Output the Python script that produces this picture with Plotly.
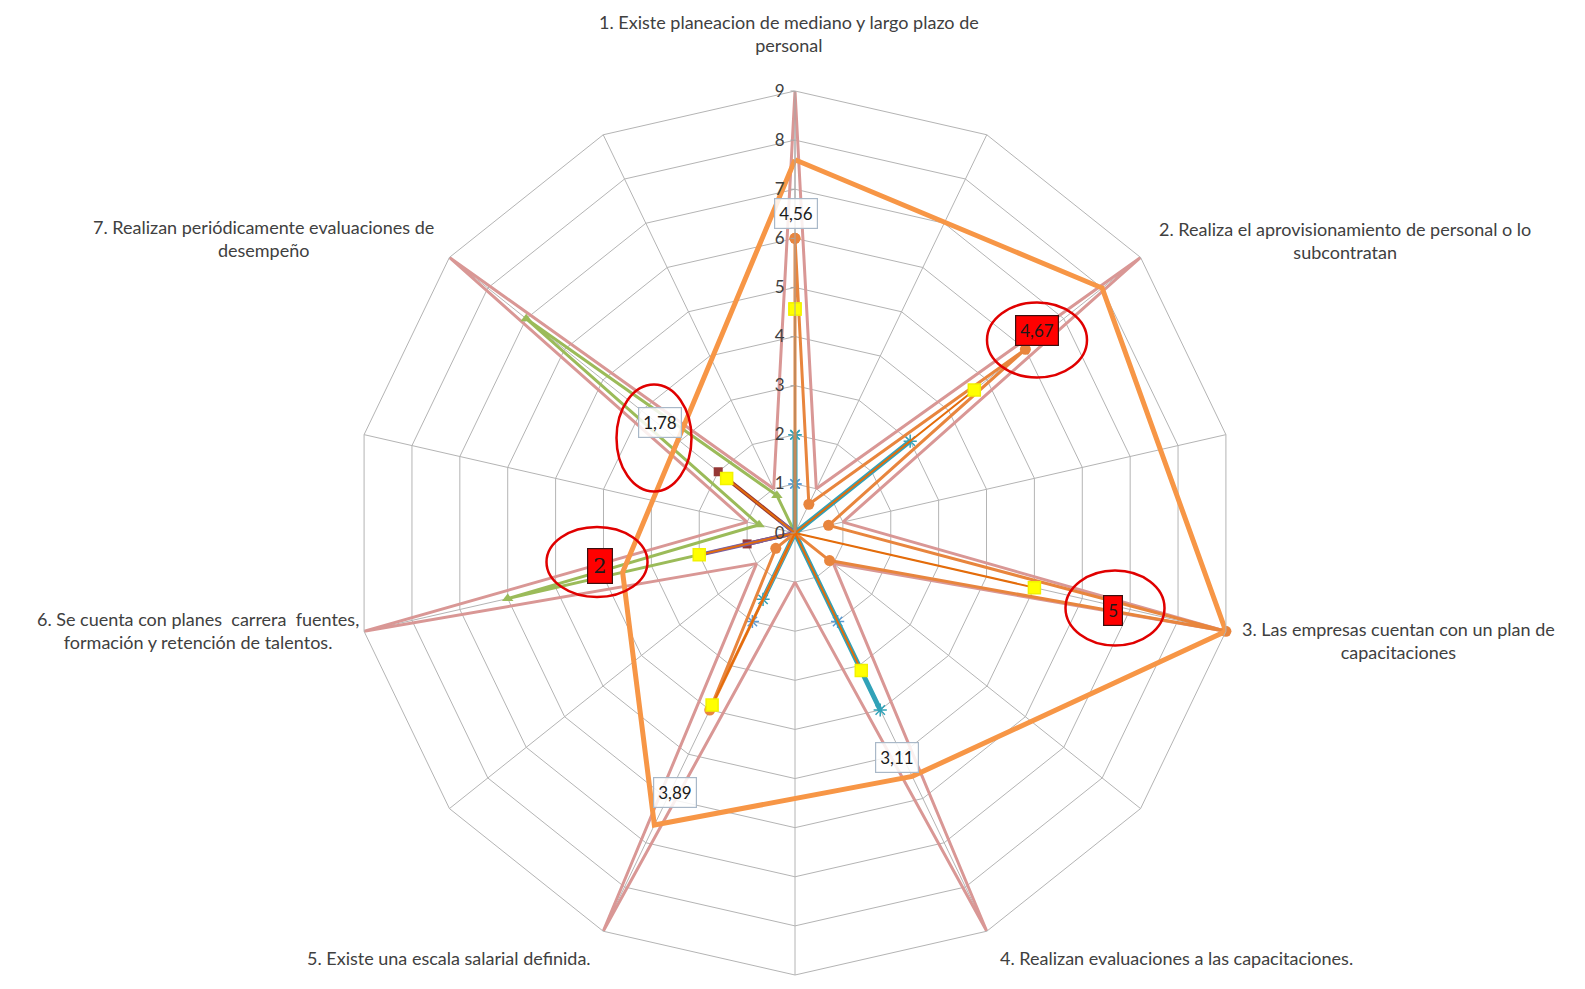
import plotly.graph_objects as go

# 14 spokes: seven questions alternating with unlabeled spokes
categories = ["1", "1-2", "2", "2-3", "3", "3-4", "4", "4-5", "5", "5-6", "6", "6-7", "7", "7-1"]

question_text = [
    "1. Existe planeacion de mediano y largo plazo de<br>personal",
    "2. Realiza el aprovisionamiento de personal o lo<br>subcontratan",
    "3. Las empresas cuentan con un plan de<br>capacitaciones",
    "4. Realizan evaluaciones a las capacitaciones.",
    "5. Existe una escala salarial definida.",
    "6. Se cuenta con planes  carrera  fuentes,<br>formación y retención de talentos.",
    "7. Realizan periódicamente evaluaciones de<br>desempeño",
]
question_pos = [(789, 33), (1345, 240), (1398, 640), (1176, 958), (449, 958), (198, 630), (263, 238)]

# Scores per spoke (values at the unlabeled spokes in between)
serie_max = [9, 1, 9, 1, 9, 1, 9, 1, 9, 1, 9, 1, 9, 1]
serie_verde = [0, 0, 0, 0, 0, 0, 0, 0, 0, 0, 6, 0.75, 7, 0.85]
serie_granate = [0, 0, 0, 0, 0, 0, 0, 0, 0, 0, 1, 0, 2, 0]
serie_morada = [0, 0, 0, 0, 0, 0, 0, 0, 0, 0, 2, 0, 0.4, 0]
serie_turquesa = [2, 0, 3, 0, 0, 0, 4, 0, 1.5, 0, 0, 0, 0, 0]
serie_azul = [1, 0, 0, 0, 0, 0, 2, 0, 2, 0, 0, 0, 0, 0]
serie_naranja = [6, 0.65, 6, 0.7, 9, 0.9, 0, 0, 4, 0.5, 0, 0, 0, 0]
promedio = [4.56, 0, 4.67, 0, 5, 0, 3.11, 0, 3.89, 0, 2, 0, 1.78, 0]

# Outline traced over questions 1 to 6
contorno_cat = ["1", "2", "3", "4", "5", "6", "1"]
contorno_val = [7.6, 8.0, 9, 5.5, 6.6, 3.6, 7.6]

# Where each average label sits, and which ones are highlighted
etiqueta_pos = {"1": (796, 213), "2": (1037, 330), "3": (1113, 610), "4": (897, 757),
                "5": (675, 792), "6": (600, 566), "7": (660, 422)}
resaltadas = ["2", "3", "6"]
elipses = {"2": (1037, 340, 100, 75), "3": (1115, 608, 99, 75),
           "6": (597, 562, 101, 70), "7": (654, 438, 75, 107)}

W, H = 1585, 989
FONT = "Lato"


def closed(vals):
    return list(vals) + [vals[0]]


theta_closed = closed(categories)

fig = go.Figure()


def add_series(vals, color, width, symbol=None, msize=9, mcolor=None, mline=None):
    marker = dict(size=msize if symbol else 0, symbol=symbol or "circle",
                  color=mcolor or color)
    if mline:
        marker["line"] = dict(color=mline, width=1.5)
    fig.add_trace(go.Scatterpolar(
        r=closed(vals), theta=theta_closed,
        mode="lines+markers" if symbol else "lines",
        line=dict(color=color, width=width), marker=marker,
        showlegend=False, hoverinfo="skip"))


add_series(serie_max, "#D99795", 3)
add_series(serie_verde, "#9BBB59", 3, "triangle-up", 10)
add_series(serie_granate, "#953735", 4, "square", 9)
add_series(serie_morada, "#7D5FA0", 4)
add_series(serie_azul, "#5B9BD5", 2.5, "asterisk-open", 11, mline="#7F95B0")
add_series(serie_turquesa, "#31A2B8", 5, "asterisk-open", 11, mline="#2E7F96")
add_series(serie_naranja, "#E8853D", 3, "circle", 11)
add_series(promedio, "#E46C0A", 2, "square", 12, mcolor="#FFFF00", mline="#F2F200")

fig.add_trace(go.Scatterpolar(
    r=contorno_val, theta=contorno_cat, mode="lines",
    line=dict(color="#F79646", width=5), showlegend=False, hoverinfo="skip"))

R = 442
cx, cy = 795, 533
fig.update_layout(
    width=W, height=H,
    margin=dict(l=0, r=0, t=0, b=0),
    paper_bgcolor="white",
    font=dict(family=FONT, size=18, color="#404040"),
    polar=dict(
        domain=dict(x=[(cx - R) / W, (cx + R) / W], y=[(H - cy - R) / H, (H - cy + R) / H]),
        bgcolor="white",
        gridshape="linear",
        radialaxis=dict(range=[0, 9], dtick=1, angle=90, side="counterclockwise",
                        tickangle=90, showline=True, linecolor="#A6A6A6", gridcolor="#B4B4B4",
                        ticks="outside", ticklen=4, tickcolor="#A6A6A6",
                        tickfont=dict(family=FONT, size=17, color="#404040")),
        angularaxis=dict(type="category", categoryarray=categories, rotation=90,
                         direction="clockwise", showticklabels=False, ticks="",
                         gridcolor="#B4B4B4", linecolor="#B4B4B4", showline=True),
    ),
)

annotations = []
for text, (x, y) in zip(question_text, question_pos):
    annotations.append(dict(text=text, x=x / W, y=1 - y / H, xref="paper", yref="paper",
                            showarrow=False, xanchor="center", yanchor="middle",
                            font=dict(family=FONT, size=18, color="#404040")))

for cat, val in zip(categories, promedio):
    if cat not in etiqueta_pos:
        continue
    x, y = etiqueta_pos[cat]
    txt = f"{val:g}".replace(".", ",")
    red = cat in resaltadas
    annotations.append(dict(
        text=txt, x=x / W, y=1 - y / H, xref="paper", yref="paper", showarrow=False,
        xanchor="center", yanchor="middle",
        font=dict(family="DejaVu Serif" if cat == "6" else FONT,
                  size=21 if cat == "6" else 17, color="#1a1a1a"),
        bgcolor="#FF0000" if red else "rgba(255,255,255,0.85)",
        bordercolor="#3a1010" if red else "#A9B8C8", borderwidth=1.2,
        borderpad=5 if cat == "6" else 4))

shapes = []
for cat, (x, y, w, h) in elipses.items():
    shapes.append(dict(type="circle", xref="paper", yref="paper",
                       x0=(x - w / 2) / W, x1=(x + w / 2) / W,
                       y0=1 - (y + h / 2) / H, y1=1 - (y - h / 2) / H,
                       line=dict(color="#E00000", width=2.5)))

fig.update_layout(annotations=annotations, shapes=shapes)
fig.write_html("out.html")
